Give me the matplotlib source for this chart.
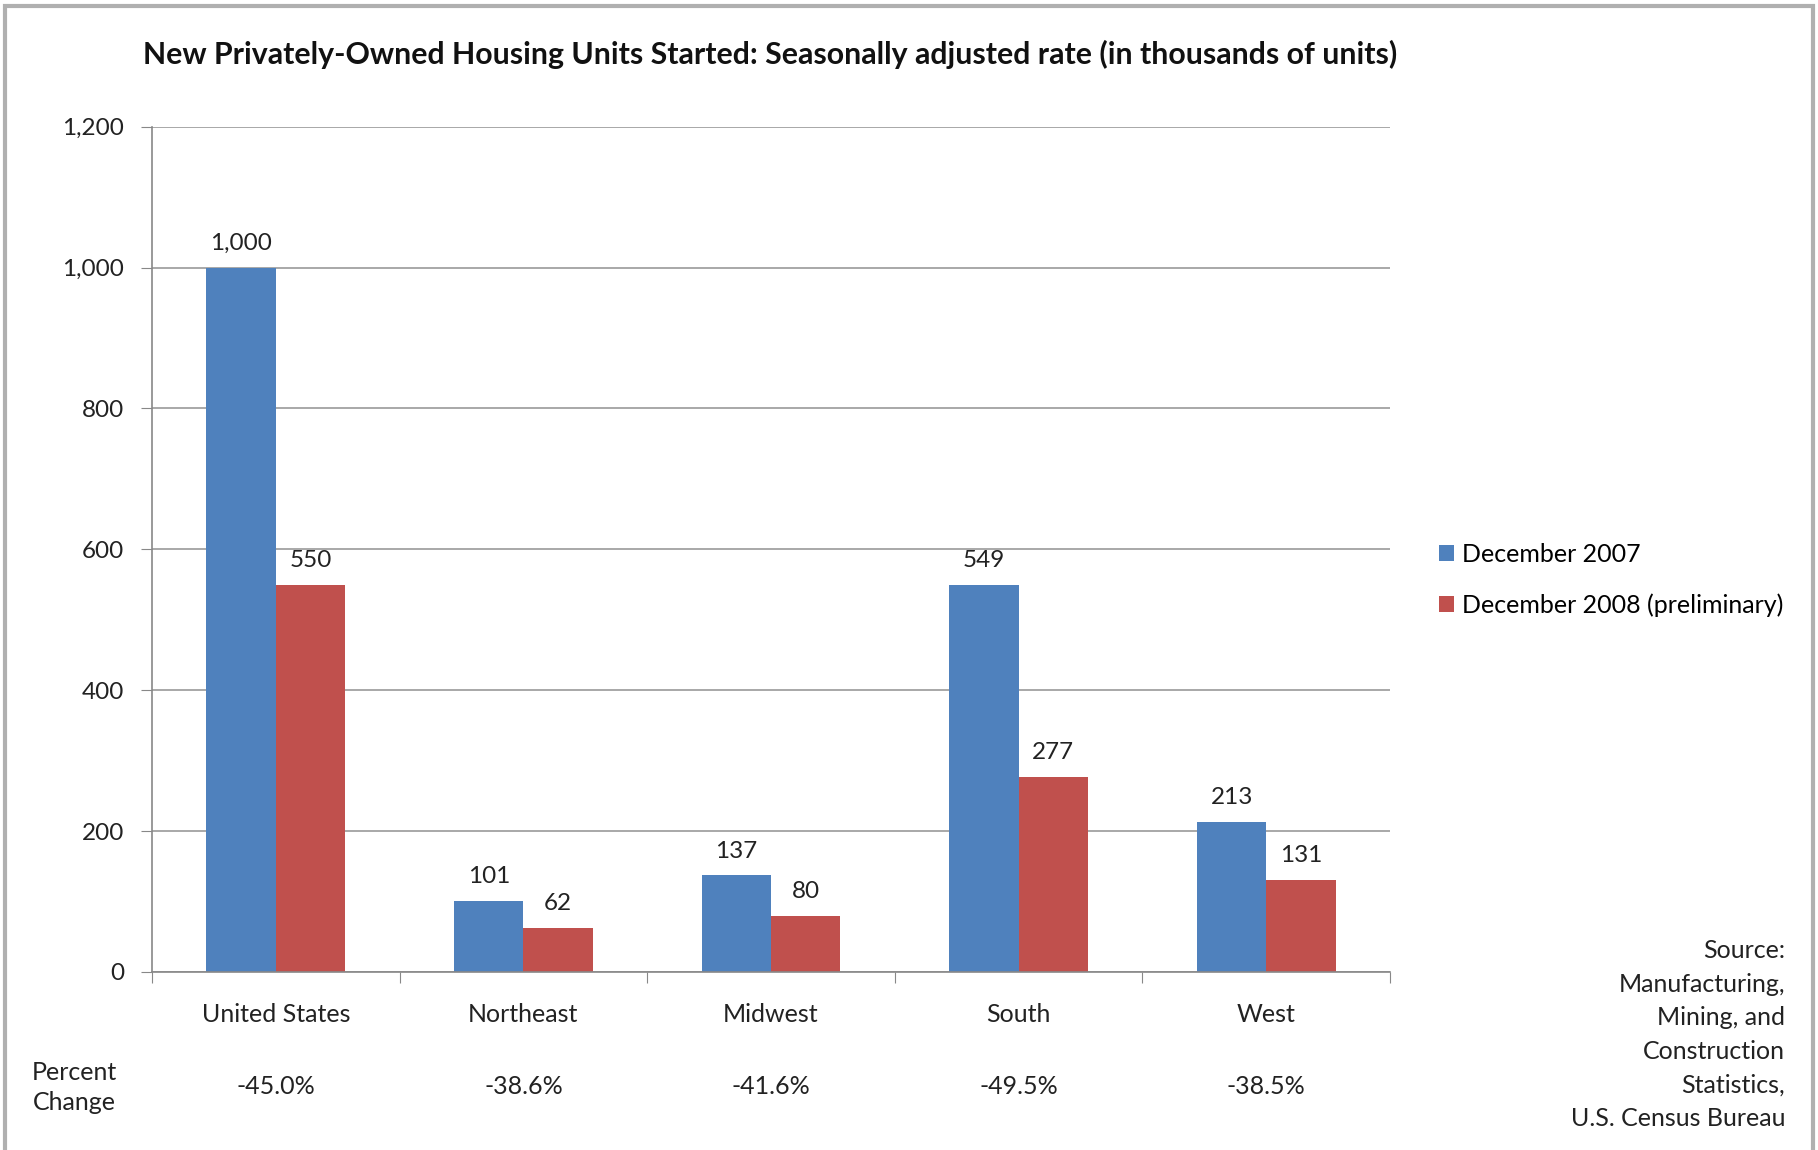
import numpy as np
import matplotlib
matplotlib.use("Agg")
from matplotlib import pyplot as plt
from matplotlib.patches import Rectangle

regions = ["United States", "Northeast", "Midwest", "South", "West"]
dec_2007 = [1000, 101, 137, 549, 213]
dec_2008 = [550, 62, 80, 277, 131]
pct_change = ["-45.0%", "-38.6%", "-41.6%", "-49.5%", "-38.5%"]
y_ticks = [0, 200, 400, 600, 800, 1000, 1200]

blue = "#4F81BD"
red = "#C0504D"
plt.rcParams['font.family'] = ['Lato', 'DejaVu Sans']

fig = plt.figure(figsize=(18.18, 11.5), dpi=100)
ax = fig.add_axes([0.0836, 0.1548, 0.681, 0.735])

x = np.arange(len(regions))
w = 0.28
b1 = ax.bar(x - w / 2, dec_2007, w, color=blue, label="December 2007")
b2 = ax.bar(x + w / 2, dec_2008, w, color=red, label="December 2008 (preliminary)")

# value labels over each bar
for bars, vals in ((b1, dec_2007), (b2, dec_2008)):
	for rect, v in zip(bars, vals):
		ax.annotate(f"{v:,}", (rect.get_x() + rect.get_width() / 2, v),
			xytext=(0, 10), textcoords="offset points", ha="center", va="bottom",
			fontsize=17.5, color="#222222")

ax.set_xlim(-0.5, len(regions) - 0.5)
ax.set_ylim(0, 1200)
ax.set_yticks(y_ticks)
ax.set_yticklabels([f"{t:,}" for t in y_ticks], fontsize=17.5, color="#222222")
ax.yaxis.grid(True, color="#9a9a9a", linewidth=1.2)
ax.set_axisbelow(True)
ax.tick_params(axis="y", length=8, color="#888888", pad=12)

ax.set_xticks(np.arange(len(regions) + 1) - 0.5)
ax.set_xticklabels([])
ax.tick_params(axis="x", length=8, color="#888888")
for i, r in enumerate(regions):
	ax.text(i, -0.05, r, transform=ax.get_xaxis_transform(), ha="center", va="center",
		fontsize=18, color="#222222")
	ax.text(i, -0.135, pct_change[i], transform=ax.get_xaxis_transform(), ha="center", va="center",
		fontsize=18, color="#222222")

for s in ("top", "right"):
	ax.spines[s].set_visible(False)
for s in ("left", "bottom"):
	ax.spines[s].set_color("#888888")
	ax.spines[s].set_linewidth(1.2)

fig.text(0.4235, 0.953, "New Privately-Owned Housing Units Started: Seasonally adjusted rate (in thousands of units)",
	ha="center", va="center", fontsize=21.8, fontweight="bold", color="#111111")
fig.text(0.041, 0.0545, "Percent\nChange", ha="center", va="center", fontsize=18,
	color="#222222", linespacing=1.4)
fig.text(0.982, 0.1005, "Source:\nManufacturing,\nMining, and\nConstruction\nStatistics,\nU.S. Census Bureau",
	ha="right", va="center", fontsize=18, color="#222222", linespacing=1.55)

fig.legend(handles=[b1, b2], loc="center left", bbox_to_anchor=(0.779, 0.496), frameon=False,
	fontsize=18, handlelength=0.6, handleheight=0.6, handletextpad=0.35, labelspacing=1.1)

fig.patches.append(Rectangle((0.003, -0.01), 0.994, 1.005, transform=fig.transFigure,
	fill=False, edgecolor="#b0b0b0", linewidth=3))

fig.savefig("out.png", dpi=100)
